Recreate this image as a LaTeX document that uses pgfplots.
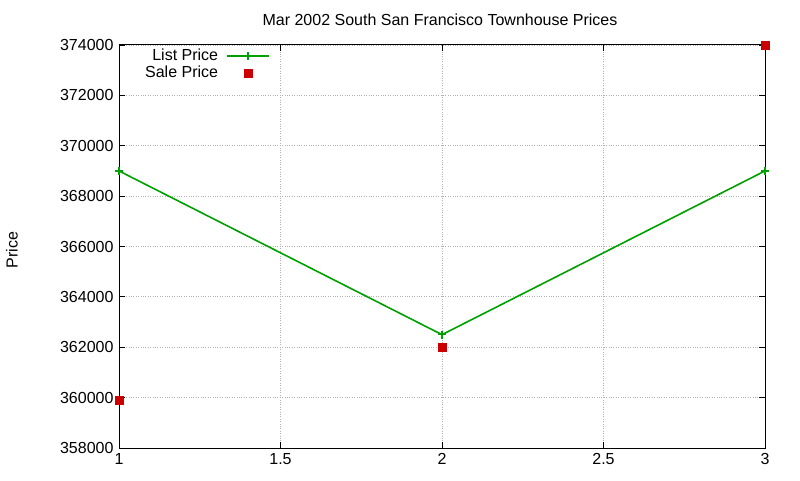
\documentclass[border=0pt]{standalone}
\usepackage{pgfplots}
\pgfplotsset{compat=1.18}
\usepackage{fontspec}
\setmainfont{Liberation Sans}
\definecolor{gpgreen}{RGB}{0,160,0}
\definecolor{gpred}{RGB}{204,0,0}
\pgfplotsset{
    gpline/.style={legend image code/.code={
        \draw[##1] (0pt,0pt) -- (42pt,0pt);
        \draw[##1, only marks] plot coordinates {(21pt,0pt)};
    }},
    gppoint/.style={legend image code/.code={
        \path[draw=none, fill=none] (0pt,-1pt) rectangle (42pt,1pt);
        \path[##1, draw=none] plot[mark=square*, mark size=4pt, mark options={fill=gpred, draw=gpred}] coordinates {(21pt,0pt)};
    }},
}
\begin{document}
\fontsize{16}{18}\selectfont
\begin{tikzpicture}[x=1pt,y=1pt]
\useasboundingbox (0,0) rectangle (800,480);
\node at (440,460) {Mar 2002 South San Francisco Townhouse Prices};
\node[rotate=90] at (12,230) {Price};
\begin{axis}[
    at={(119pt,32pt)}, anchor=south west,
    scale only axis,
    width=646pt, height=403pt,
    xmin=1, xmax=3,
    ymin=358000, ymax=374000,
    xtick={1,1.5,2,2.5,3},
    ytick={358000,360000,362000,364000,366000,368000,370000,372000,374000},
    yticklabels={358000,360000,362000,364000,366000,368000,370000,372000,374000},
    scaled y ticks=false,
    /pgf/number format/assume math mode=true,
    ticklabel style={font=\fontsize{16}{18}\selectfont},
    tick align=inside,
    major tick length=6pt,
    grid=major,
    major grid style={gray!60, dotted, line width=0.8pt},
    axis line style={black, line width=1pt},
    tick style={black, line width=0.8pt},
    clip=false,
    legend style={draw=none, fill=none, at={(0.2336,0.994)}, anchor=north east,
        font=\fontsize{16}{18}\selectfont, row sep=0pt, column sep=8pt,
        inner sep=0pt, nodes={inner sep=0pt, minimum height=17pt}},
    legend cell align=right,
    legend plot pos=right,
]
\addplot[gpgreen, line width=1.6pt, mark=+, mark size=4pt, mark options={line width=1.4pt}, gpline]
coordinates {(1,369000) (2,362500) (3,369000)};
\addlegendentry{List Price}
\addplot[only marks, mark=square*, mark size=4pt, color=gpred, gppoint]
coordinates {(1,359900) (2,362000) (3,374000)};
\addlegendentry{Sale Price}
\end{axis}
\end{tikzpicture}
\end{document}
